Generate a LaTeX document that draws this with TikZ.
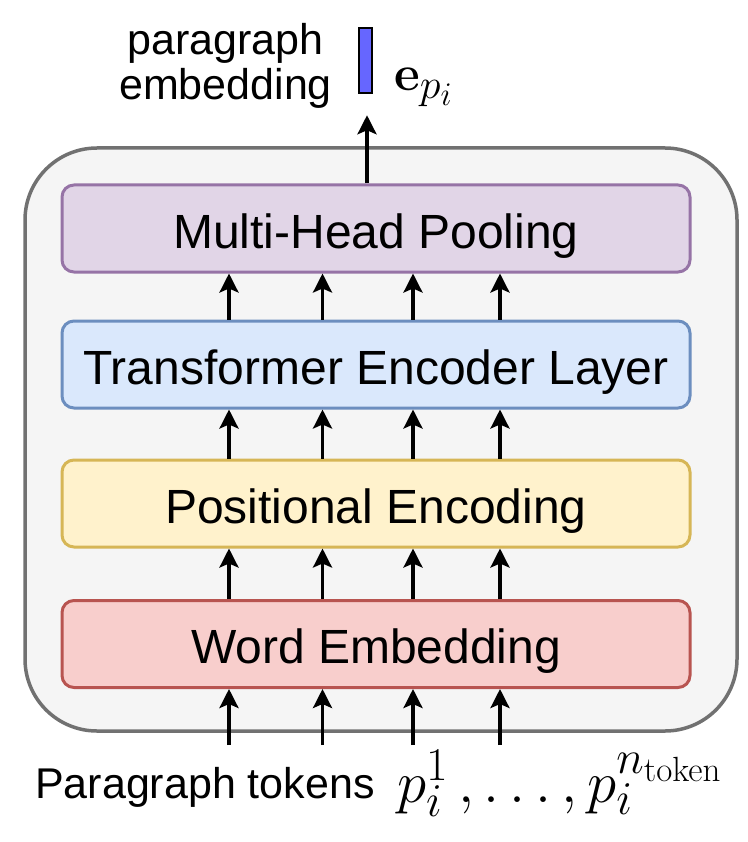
\documentclass[tikz,border=0pt]{standalone}
\usepackage{fix-cm}
\usepackage[no-math]{fontspec}
\setmainfont{Liberation Sans}
\usetikzlibrary{arrows.meta}
\DeclareMathSizes{59}{59}{47}{35}
\DeclareMathSizes{50}{50}{42}{33}
\definecolor{outerfill}{HTML}{F5F5F5}
\definecolor{outerline}{HTML}{717171}
\definecolor{purfill}{HTML}{E1D5E7}
\definecolor{purline}{HTML}{9673A6}
\definecolor{blufill}{HTML}{DAE8FC}
\definecolor{bluline}{HTML}{6C8EBF}
\definecolor{yelfill}{HTML}{FFF2CC}
\definecolor{yelline}{HTML}{D6B656}
\definecolor{redfill}{HTML}{F8CECC}
\definecolor{redline}{HTML}{B85450}
\definecolor{vecfill}{HTML}{6666FF}
\begin{document}
\begin{tikzpicture}[x=1pt,y=-1pt,
  layerbox/.style={draw, line width=3pt, rounded corners=12pt,
    minimum width=628pt, minimum height=87pt, inner sep=0pt,
    text height=39pt, text depth=0pt,
    font=\fontsize{48}{56}\selectfont},
  arr/.style={line width=3.4pt, -{Stealth[length=19pt,width=19pt,inset=4pt]}},
  bigtext/.style={font=\fontsize{43}{45}\selectfont, inner sep=0pt},
  mathtext/.style={font=\fontsize{59}{67}\selectfont, inner sep=0pt},
  embtext/.style={font=\fontsize{50}{58}\selectfont, inner sep=0pt}
]
\useasboundingbox (0,0) rectangle (747,842);
% outer container
\node[draw=outerline, fill=outerfill, line width=3.5pt, rounded corners=72pt,
  minimum width=712pt, minimum height=583pt, inner sep=0pt] (outer) at (381,439.5) {};
% layer boxes
\node[layerbox, draw=purline, fill=purfill] (mhp) at (376,228.5) {Multi-Head Pooling};
\node[layerbox, draw=bluline, fill=blufill] (tel) at (376,364.5) {Transformer Encoder Layer};
\node[layerbox, draw=yelline, fill=yelfill] (pe) at (376,503.5) {Positional Encoding};
\node[layerbox, draw=redline, fill=redfill] (we) at (376,644) {Word Embedding};
% token columns
\coordinate (t1) at (229,745);
\coordinate (t2) at (322.5,745);
\coordinate (t3) at (413,745);
\coordinate (t4) at (500,745);
\foreach \t in {t1,t2,t3,t4}{
  \draw[arr] (\t) -- (\t |- we.south);
  \draw[arr] (\t |- we.north) -- (\t |- pe.south);
  \draw[arr] (\t |- pe.north) -- (\t |- tel.south);
  \draw[arr] (\t |- tel.north) -- (\t |- mhp.south);
}
% output vector
\node[draw=black, fill=vecfill, line width=2.5pt, minimum width=13pt, minimum height=65pt,
  inner sep=0pt] (vec) at (365.5,60.5) {};
\coordinate (topx) at (367,0);
\draw[arr] (topx |- mhp.north) -- ([yshift=-21pt]topx |- vec.south);
\node[embtext, anchor=base west] (evec) at (394,91) {$\mathbf{e}_{p_i}$};
\node[bigtext, align=center, anchor=base] (plabel) at (225.5,100) {paragraph\\embedding};
% bottom label
\node[bigtext, anchor=base west] (ptok) at (35,798) {Paragraph tokens};
\node[mathtext, anchor=base west] (pmath) at (397,802) {$p_i^1\mkern3mu,\ldots,p_i^{n_{\mathrm{token}}}$};
\end{tikzpicture}
\end{document}
